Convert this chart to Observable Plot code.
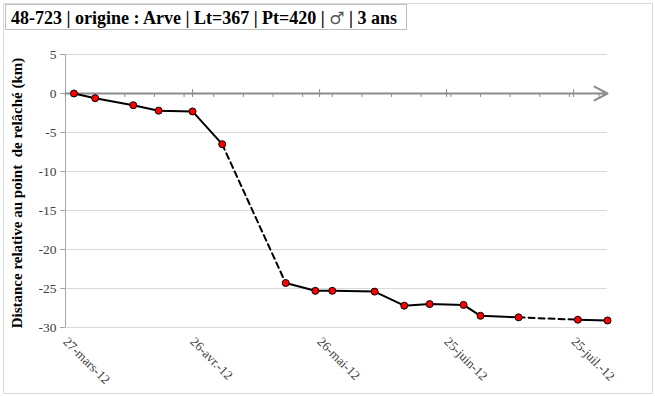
<!DOCTYPE html>
<html>
<head>
<meta charset="utf-8">
<script src="https://cdn.jsdelivr.net/npm/d3@7"></script>
<script src="https://cdn.jsdelivr.net/npm/@observablehq/plot@0.6"></script>
<style>
  html, body { margin: 0; padding: 0; background: #fff; }
  #wrap { position: relative; width: 655px; height: 396px; overflow: hidden; }
  #frame { position: absolute; left: 3px; top: 3px; width: 648px; height: 389px; border: 1px solid #d9d9d9; box-sizing: content-box; }
  #title { position: absolute; left: 5px; top: 4px; width: 402px; height: 26px; border: 1px solid #bfbfbf;
           font-family: "Liberation Serif", "Times New Roman", serif; font-weight: bold; font-size: 18px;
           line-height: 26px; padding-left: 5px; box-sizing: border-box; color: #000; white-space: nowrap; background:#fff; }
  #title .sym { font-weight: normal; font-family: "DejaVu Sans", sans-serif; font-size: 17px; color: #555; }
  #chart { position: absolute; left: 0; top: 0; }
</style>
</head>
<body>
<div id="wrap">
  <div id="chart"></div>
  <div id="frame"></div>
  <div id="title">48-723 | origine : Arve | Lt=367 | Pt=420 | <span class="sym">♂</span> | 3 ans</div>
</div>
<script>
// ---- data ----
const dates = ["2012-03-29","2012-04-03","2012-04-12","2012-04-18","2012-04-26","2012-05-03",
               "2012-05-18","2012-05-25","2012-05-29","2012-06-08","2012-06-15","2012-06-21",
               "2012-06-29","2012-07-03","2012-07-12","2012-07-26","2012-08-02"];
const distances = [0, -0.6, -1.5, -2.2, -2.3, -6.5, -24.3, -25.3, -25.3, -25.4, -27.2, -27.0,
                   -27.1, -28.5, -28.7, -29.0, -29.1];
const gapAfter = [5, 14]; // segments drawn dashed (missing tracking)
const xDomain = ["2012-03-27", "2012-08-02"];
const xTickDates = ["2012-03-27","2012-04-26","2012-05-26","2012-06-25","2012-07-25"];
const xTickLabels = ["27-mars-12","26-avr.-12","26-mai-12","25-juin-12","25-juil.-12"];
const yTicks = [-30, -25, -20, -15, -10, -5, 0, 5];
const yLabel = "Distance relative au point  de relâché (km)";

// ---- build tables ----
const parse = s => new Date(s + "T00:00:00Z");
let grp = 0;
const pts = dates.map((d, i) => {
  const p = {date: parse(d), dist: distances[i], g: grp};
  if (gapAfter.includes(i)) grp++;
  return p;
});
const dashed = [];
gapAfter.forEach((i, k) => {
  dashed.push({date: pts[i].date, dist: pts[i].dist, g: k});
  dashed.push({date: pts[i + 1].date, dist: pts[i + 1].dist, g: k});
});
const x0 = parse(xDomain[0]), x1 = parse(xDomain[1]);
const majorTicks = xTickDates.map(parse);
const minorTicks = d3.utcDays(x0, x1, 7);
const xLabels = xTickDates.map((d, i) => ({date: parse(d), label: xTickLabels[i]}));

const font = '"Liberation Serif", "Times New Roman", serif';

const chart = Plot.plot({
  width: 655,
  height: 396,
  marginLeft: 65,
  marginRight: 48,
  marginTop: 54,
  marginBottom: 69,
  style: {fontFamily: font, fontSize: "13px", color: "#404040", background: "transparent"},
  x: {type: "utc", domain: [x0, x1], axis: null},
  y: {domain: [-30, 5], axis: null},
  marks: [
    Plot.ruleY(yTicks, {stroke: "#d9d9d9", strokeWidth: 1}),
    Plot.ruleX([x0], {stroke: "#a6a6a6", strokeWidth: 1}),
    Plot.axisY({ticks: yTicks, tickFormat: d => String(d), tickSize: 5, tickPadding: 4,
                stroke: "#a6a6a6", fill: "#404040", fontSize: 13.5, label: null}),
    Plot.text([yLabel], {frameAnchor: "left", textAnchor: "middle", rotate: -90, dx: -48, dy: 2,
                         fontWeight: "bold", fontSize: 15, fill: "#000", fontFamily: font}),
    Plot.text(xLabels, {x: "date", frameAnchor: "bottom", text: "label", rotate: 45,
                        textAnchor: "start", dx: -3, dy: 15, fontSize: 13, fill: "#404040"}),
    // zero axis with arrow
    Plot.arrow([{a: x0, b: x1}], {x1: "a", x2: "b", y1: () => 0, y2: () => 0,
               stroke: "#8c8c8c", strokeWidth: 2, headLength: 11, headAngle: 55}),
    Plot.ruleX(minorTicks, {y1: () => 0, y2: () => 0, insetTop: 0, insetBottom: -4,
               stroke: "#8c8c8c", strokeWidth: 1}),
    Plot.ruleX(majorTicks.slice(1), {y1: () => 0, y2: () => 0, insetTop: -4, insetBottom: -4,
               stroke: "#8c8c8c", strokeWidth: 1}),
    // data
    Plot.line(pts, {x: "date", y: "dist", z: "g", stroke: "#000", strokeWidth: 2}),
    Plot.line(dashed, {x: "date", y: "dist", z: "g", stroke: "#000", strokeWidth: 2,
                       strokeDasharray: "6,4"}),
    Plot.dot(pts, {x: "date", y: "dist", r: 3.5, fill: "#ff0000", stroke: "#000", strokeWidth: 1})
  ]
});
document.getElementById("chart").appendChild(chart);
</script>
</body>
</html>
